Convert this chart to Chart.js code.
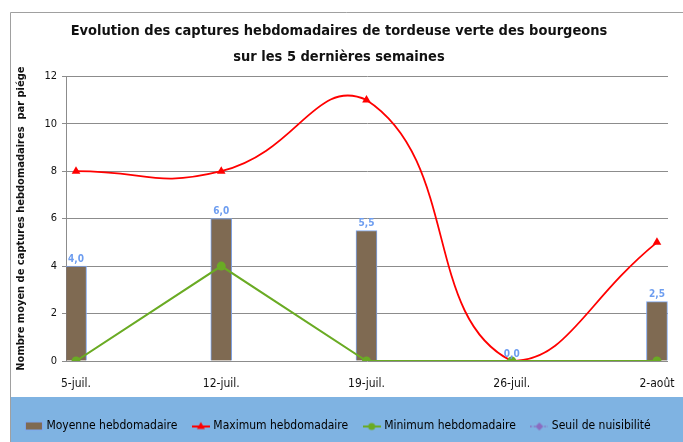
<!DOCTYPE html>
<html>
<head>
<meta charset="utf-8">
<script src="https://cdn.jsdelivr.net/npm/chart.js@4.4.0/dist/chart.umd.min.js"></script>
<style>
  html, body { margin: 0; padding: 0; background: #fff; }
</style>
</head>
<body>
<canvas id="chart" width="683" height="442"></canvas>
<script>
const semaines = ['5-juil.', '12-juil.', '19-juil.', '26-juil.', '2-août'];
const moyenne = [4.0, 6.0, 5.5, 0.0, 2.5];
const maximum = [8, 8, 11, 0, 5];
const minimum = [0, 4, 0, 0, 0];
const seuil = [null, null, null, null, null];
const yTicks = [0, 2, 4, 6, 8, 10, 12];

const FONT = "'DejaVu Sans Condensed', 'Liberation Sans Narrow', sans-serif";
Chart.defaults.font.family = FONT;
Chart.defaults.color = '#222';

const BRUN = '#7f6a52', BLEU = '#7ea6ee', ROUGE = '#ff0000', VERT = '#6aab24', VIOLET = '#8a6cc0';

const pts = arr => arr.map((v, i) => ({ x: i, y: v }));

// petites icônes de légende
function icone(draw) {
  const c = document.createElement('canvas');
  c.width = 18; c.height = 11;
  draw(c.getContext('2d'));
  return c;
}
const icones = [
  icone(g => { g.fillStyle = BRUN; g.fillRect(1, 2, 17, 8); g.strokeStyle = BLEU; g.lineWidth = 1; g.strokeRect(0.5, 1.5, 17, 8); }),
  icone(g => { g.strokeStyle = ROUGE; g.lineWidth = 2; g.beginPath(); g.moveTo(0, 6); g.lineTo(18, 6); g.stroke();
               g.fillStyle = ROUGE; g.beginPath(); g.moveTo(9, 1.5); g.lineTo(13, 8.5); g.lineTo(5, 8.5); g.closePath(); g.fill(); }),
  icone(g => { g.strokeStyle = VERT; g.lineWidth = 2; g.beginPath(); g.moveTo(0, 6); g.lineTo(18, 6); g.stroke();
               g.fillStyle = VERT; g.beginPath(); g.arc(9, 6, 3.5, 0, Math.PI * 2); g.fill(); }),
  icone(g => { g.strokeStyle = VIOLET; g.lineWidth = 1.5; g.setLineDash([1.5, 2]); g.beginPath(); g.moveTo(0, 6); g.lineTo(18, 6); g.stroke();
               g.setLineDash([]); g.fillStyle = VIOLET; g.beginPath(); g.moveTo(9, 2); g.lineTo(13, 6); g.lineTo(9, 10); g.lineTo(5, 6); g.closePath(); g.fill(); })
];

const cadre = {
  id: 'cadre',
  beforeDraw(chart) {
    const g = chart.ctx;
    g.save();
    g.fillStyle = '#fff';
    g.fillRect(0, 0, chart.width, chart.height);
    g.fillStyle = '#7fb3e2';
    g.fillRect(10, 397, chart.width - 10, chart.height - 397);
    g.strokeStyle = '#a0a0a0';
    g.lineWidth = 1;
    g.beginPath();
    g.moveTo(10.5, 442); g.lineTo(10.5, 12.5); g.lineTo(chart.width, 12.5);
    g.stroke();
    g.restore();
  }
};

const etiquettes = {
  id: 'etiquettes',
  afterDatasetsDraw(chart) {
    const g = chart.ctx;
    const meta = chart.getDatasetMeta(0);
    g.save();
    g.font = 'bold 10px ' + FONT;
    g.fillStyle = '#6d9df0';
    g.textAlign = 'center';
    g.textBaseline = 'bottom';
    meta.data.forEach((el, i) => {
      g.fillText(moyenne[i].toFixed(1).replace('.', ','), el.x, el.y - 2);
    });
    g.restore();
  }
};

new Chart(document.getElementById('chart'), {
  data: {
    datasets: [
      { type: 'bar', label: 'Moyenne hebdomadaire', data: pts(moyenne), order: 4,
        backgroundColor: BRUN, borderColor: BLEU, borderWidth: 1, barThickness: 21 },
      { type: 'line', label: 'Maximum hebdomadaire', data: pts(maximum), order: 3,
        borderColor: ROUGE, backgroundColor: ROUGE, borderWidth: 1.8, tension: 0.5,
        pointStyle: 'triangle', pointRadius: 5, pointBorderWidth: 0 },
      { type: 'line', label: 'Minimum hebdomadaire', data: pts(minimum), order: 2,
        borderColor: VERT, backgroundColor: VERT, borderWidth: 2, tension: 0,
        pointStyle: 'circle', pointRadius: 4.5, pointBorderWidth: 0 },
      { type: 'line', label: 'Seuil de nuisibilité', data: pts(seuil), order: 1,
        borderColor: VIOLET, backgroundColor: VIOLET, borderWidth: 1.5, borderDash: [2, 2],
        pointStyle: 'rectRot', pointRadius: 4 }
    ]
  },
  options: {
    responsive: false,
    animation: false,
    layout: { padding: { left: 10, top: 12, right: 15, bottom: 0 } },
    plugins: {
      title: {
        display: true,
        text: ['Evolution des captures hebdomadaires de tordeuse verte des bourgeons', 'sur les 5 dernières semaines'],
        font: { size: 14.5, weight: 'bold', lineHeight: 1.8 },
        color: '#111',
        padding: { top: 6, bottom: 6 }
      },
      legend: {
        position: 'bottom',
        align: 'center',
        labels: {
          usePointStyle: true,
          pointStyleWidth: 13,
          boxHeight: 11,
          padding: 17,
          font: { size: 12 },
          color: '#111',
          generateLabels: chart => chart.data.datasets.map((ds, i) => ({
            text: ds.label, pointStyle: icones[i], datasetIndex: i,
            fillStyle: 'transparent', strokeStyle: 'transparent', lineWidth: 0, hidden: false
          }))
        }
      },
      tooltip: { enabled: false }
    },
    scales: {
      x: {
        type: 'linear',
        offset: false,
        min: -0.069,
        max: 4.076,
        afterBuildTicks: s => { s.ticks = semaines.map((_, i) => ({ value: i })); },
        afterFit: s => { s.height = 42; s.paddingLeft = 0; s.paddingRight = 0; },
        grid: { display: false },
        border: { display: false },
        ticks: { padding: 8, font: { size: 12 }, color: '#111', maxRotation: 0,
                 callback: v => semaines[v] }
      },
      y: {
        min: 0,
        max: 12,
        afterBuildTicks: s => { s.ticks = yTicks.map(v => ({ value: v })); },
        afterFit: s => { s.width = 56; },
        grid: { color: '#8c8c8c', tickLength: 4 },
        border: { color: '#8c8c8c' },
        ticks: { font: { size: 11 }, color: '#111', padding: 5 },
        title: {
          display: true,
          text: 'Nombre moyen de captures hebdomadaires  par piége',
          font: { size: 11, weight: 'bold' },
          color: '#111',
          padding: { top: 5, bottom: 0 }
        }
      }
    }
  },
  plugins: [cadre, etiquettes]
});
</script>
</body>
</html>
